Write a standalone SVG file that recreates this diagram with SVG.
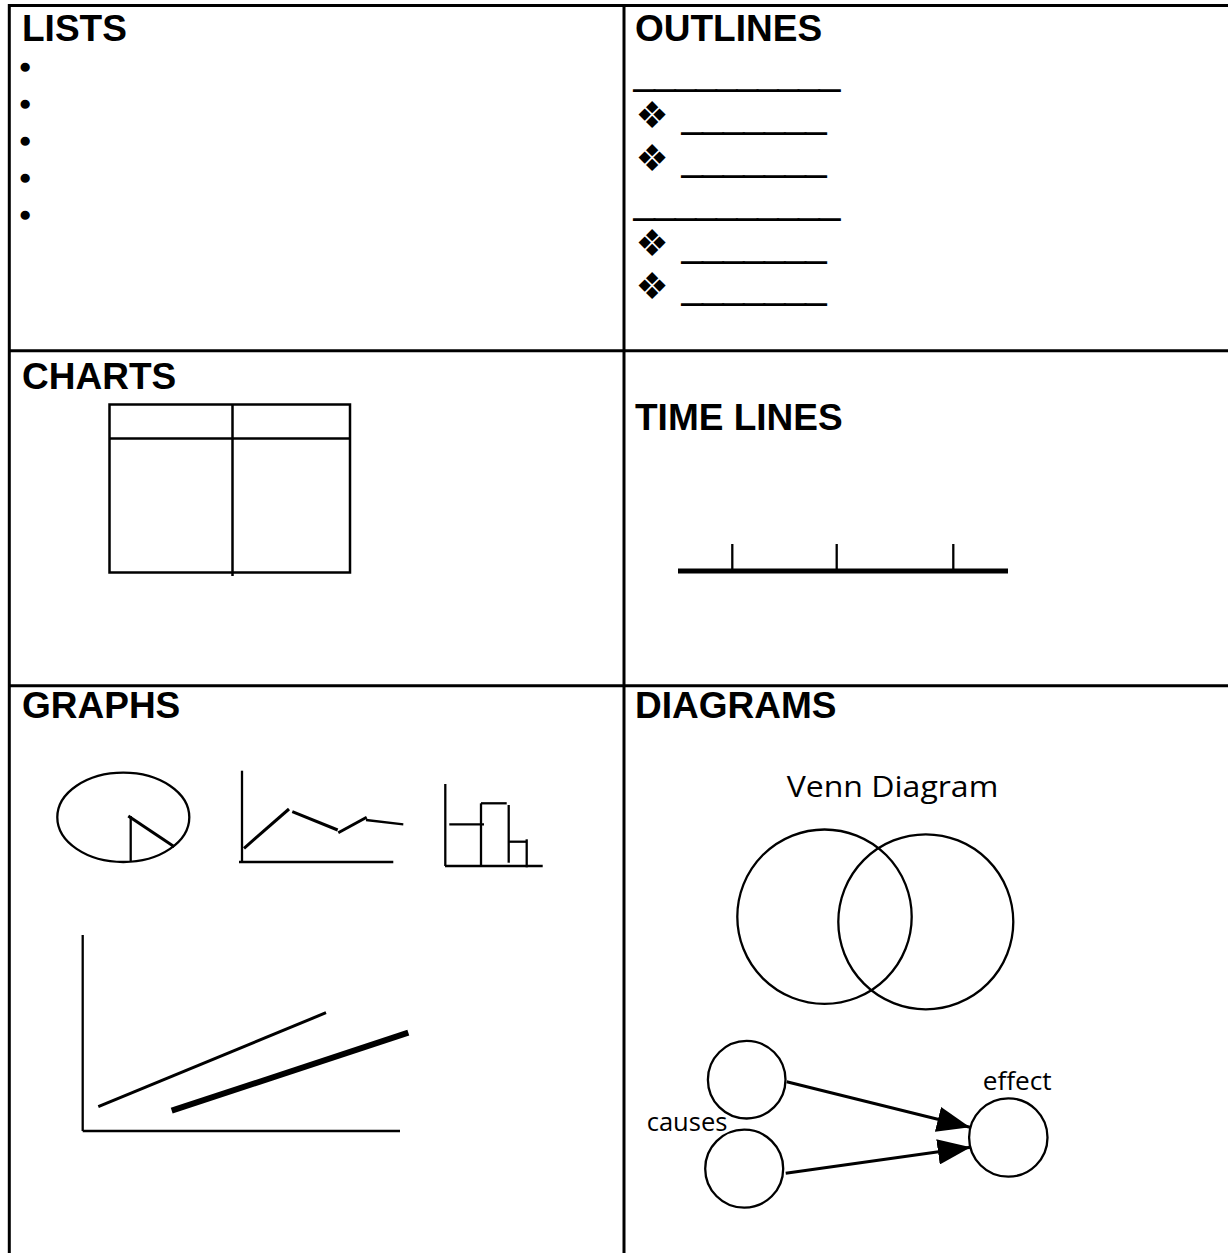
<svg xmlns="http://www.w3.org/2000/svg" width="1228" height="1253" viewBox="0 0 1228 1253">
<defs>
<style>
.h{font-family:"Liberation Sans",Arial,sans-serif;font-weight:bold;font-size:37px;fill:#000}
.u{font-family:"Liberation Sans",Arial,sans-serif;font-weight:bold;font-size:37px;fill:#000;stroke:#000;stroke-width:1.4}
.b{font-family:"Liberation Sans",Arial,sans-serif;font-size:28px;fill:#000;stroke:#000;stroke-width:1.6}
.d{font-family:"DejaVu Sans",sans-serif;font-size:37px;fill:#000}
.l{font-family:"Open Sans","DejaVu Sans",sans-serif;fill:#000}
.g{fill:none;stroke:#000;stroke-width:2.5}
.s{fill:none;stroke:#000;stroke-width:2.3}
.t{fill:none;stroke:#000;stroke-width:3}
</style>
<marker id="ah" markerWidth="11" markerHeight="8.5" refX="11" refY="4.25" orient="auto" markerUnits="strokeWidth">
<path d="M0,0 L11,4.25 L0,8.5 Z" fill="#000"/>
</marker>
</defs>
<rect width="1228" height="1253" fill="#fff"/>
<g id="grid" fill="none" stroke="#000" stroke-width="3">
<line x1="9" y1="5.5" x2="1228" y2="5.5"/>
<line x1="9.3" y1="4" x2="9.3" y2="1253"/>
<line x1="624" y1="4" x2="624" y2="1253"/>
<line x1="9" y1="350.7" x2="1228" y2="350.7"/>
<line x1="9" y1="685.7" x2="1228" y2="685.7"/>
</g>
<g id="lists">
<text class="h" x="22" y="41">LISTS</text>
<text class="b" x="20.2" y="76.3">•</text>
<text class="b" x="20.2" y="113">•</text>
<text class="b" x="20.2" y="150">•</text>
<text class="b" x="20.2" y="187">•</text>
<text class="b" x="20.2" y="223.6">•</text>
</g>
<g id="outlines">
<text class="h" x="635" y="41">OUTLINES</text>
<text class="u" x="634" y="87">__________</text>
<text class="d" x="652" y="128" text-anchor="middle">❖</text>
<text class="u" x="682" y="130.3">_______</text>
<text class="d" x="652" y="170.8" text-anchor="middle">❖</text>
<text class="u" x="682" y="172.7">_______</text>
<text class="u" x="634" y="216">__________</text>
<text class="d" x="652" y="256.3" text-anchor="middle">❖</text>
<text class="u" x="682" y="258.7">_______</text>
<text class="d" x="652" y="299.3" text-anchor="middle">❖</text>
<text class="u" x="682" y="301.3">_______</text>
</g>
<g id="charts">
<text class="h" x="22" y="389">CHARTS</text>
<rect class="g" x="109.5" y="404.5" width="240.5" height="168"/>
<line class="g" x1="109.5" y1="438.5" x2="350" y2="438.5"/>
<line class="g" x1="232.5" y1="404.5" x2="232.5" y2="576"/>
</g>
<g id="timelines">
<text class="h" x="635" y="430">TIME LINES</text>
<line x1="678" y1="571" x2="1008" y2="571" stroke="#000" stroke-width="5"/>
<line class="s" x1="732.3" y1="544" x2="732.3" y2="571"/>
<line class="s" x1="836.7" y1="544" x2="836.7" y2="571"/>
<line class="s" x1="953.3" y1="544" x2="953.3" y2="571"/>
</g>
<g id="graphs">
<text class="h" x="22" y="718">GRAPHS</text>
<g id="pie">
<ellipse class="s" cx="123.3" cy="817.3" rx="66" ry="44.7"/>
<line class="s" x1="130.7" y1="816" x2="130.7" y2="862"/>
<line class="t" x1="128.3" y1="816" x2="174.3" y2="846.7"/>
</g>
<g id="linegraph">
<line class="s" x1="242" y1="770.7" x2="242" y2="862"/>
<line class="s" x1="239" y1="862" x2="393.3" y2="862"/>
<line class="t" x1="244" y1="848.3" x2="289" y2="809"/>
<line class="t" x1="292.3" y1="811.7" x2="337.7" y2="830"/>
<line class="t" x1="338.3" y1="832.7" x2="366.7" y2="817.3"/>
<line class="s" x1="366" y1="820" x2="403.3" y2="824.3"/>
</g>
<g id="bargraph">
<line class="s" x1="445.3" y1="784" x2="445.3" y2="866"/>
<line class="s" x1="445" y1="866" x2="542.7" y2="866"/>
<line class="s" x1="449.3" y1="824.3" x2="484" y2="824.3"/>
<line class="s" x1="481" y1="803.3" x2="481" y2="866"/>
<line class="s" x1="481" y1="803.3" x2="506.7" y2="803.3"/>
<line class="s" x1="508.7" y1="805" x2="508.7" y2="862.7"/>
<line class="s" x1="508" y1="841.7" x2="526.7" y2="841.7"/>
<line class="s" x1="526.7" y1="839.3" x2="526.7" y2="867.3"/>
</g>
<g id="biggraph">
<line class="s" x1="82.7" y1="935" x2="82.7" y2="1131"/>
<line class="s" x1="82.7" y1="1131" x2="400" y2="1131"/>
<line class="t" x1="98.3" y1="1106.7" x2="326" y2="1012.7"/>
<line x1="171.7" y1="1110.7" x2="408.3" y2="1032.7" stroke="#000" stroke-width="6"/>
</g>
</g>
<g id="diagrams">
<text class="h" x="635" y="718">DIAGRAMS</text>
<g id="venn">
<text class="l" x="786.7" y="796.7" font-size="30" textLength="211.6" lengthAdjust="spacingAndGlyphs">Venn Diagram</text>
<circle class="s" cx="824.5" cy="916.7" r="87.2"/>
<circle class="s" cx="925.8" cy="921.8" r="87.5"/>
</g>
<g id="cause1"><circle class="s" cx="746.7" cy="1079.7" r="38.8"/></g>
<g id="cause2"><circle class="s" cx="744.2" cy="1168.7" r="39"/></g>
<g id="effect"><circle class="s" cx="1008.3" cy="1137.5" r="39.2"/></g>
<text class="l" x="982.7" y="1090" font-size="25" textLength="69" lengthAdjust="spacingAndGlyphs">effect</text>
<text class="l" x="646.7" y="1130.7" font-size="25" textLength="80.7" lengthAdjust="spacingAndGlyphs">causes</text>
</g>
<g id="connectors">
<line class="t" x1="786.7" y1="1081.7" x2="970" y2="1127.3" marker-end="url(#ah)"/>
<line class="t" x1="785.7" y1="1173.3" x2="970.7" y2="1147.3" marker-end="url(#ah)"/>
</g>
</svg>
